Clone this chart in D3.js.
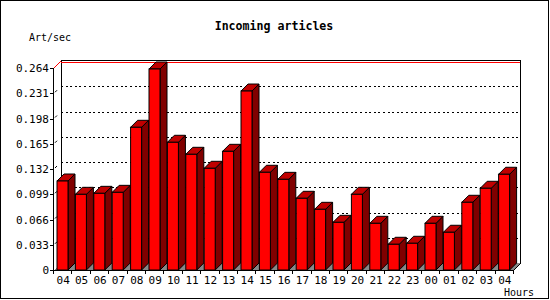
<!DOCTYPE html>
<html>
<head>
<meta charset="utf-8">
<script src="https://cdn.jsdelivr.net/npm/d3@7"></script>
<style>
  body { margin: 0; background: #fff; }
  text { font-family: "DejaVu Sans Mono", monospace; fill: #000; }
</style>
</head>
<body>
<svg width="550" height="300"></svg>
<script>
var hours = ["04", "05", "06", "07", "08", "09", "10", "11", "12", "13", "14", "15", "16",
             "17", "18", "19", "20", "21", "22", "23", "00", "01", "02", "03", "04"];
var rates = [0.1163, 0.0989, 0.1002, 0.1015, 0.1865, 0.2627, 0.1669, 0.1512, 0.1329, 0.1551,
             0.2339, 0.1277, 0.1185, 0.0937, 0.0793, 0.0623, 0.0989, 0.0610, 0.0336, 0.0349,
             0.0610, 0.0493, 0.0885, 0.1068, 0.1251];
var yTicks = [0, 0.033, 0.066, 0.099, 0.132, 0.165, 0.198, 0.231, 0.264];
var yTickLabels = ["0", "0.033", "0.066", "0.099", "0.132", "0.165", "0.198", "0.231", "0.264"];

var svg = d3.select("svg");

// 3d offset of back wall
var dx = 7, dy = 7;
var pLeft = 54, pRight = 514, pBottom = 270, pTop = 68;

var x = d3.scaleBand()
    .domain(d3.range(hours.length))
    .range([pLeft, pRight]);

var y = d3.scaleLinear()
    .domain([0, 0.264])
    .range([pBottom, pTop]);

// outer frame
svg.append("rect")
    .attr("x", 0.5).attr("y", 0.5)
    .attr("width", 548).attr("height", 298)
    .attr("fill", "#fff")
    .attr("stroke", "#000");

var g = svg.append("g").attr("shape-rendering", "crispEdges");

// grid on back wall
g.selectAll(".grid")
    .data(yTicks.slice(1, -1))
    .enter()
    .append("line")
    .attr("x1", pLeft + dx).attr("x2", pRight + dx)
    .attr("y1", function (d) { return Math.round(y(d) - dy) + 0.5; })
    .attr("y2", function (d) { return Math.round(y(d) - dy) + 0.5; })
    .attr("stroke", "#000")
    .attr("stroke-dasharray", "2,2.6");

// back wall frame
g.append("line")
    .attr("x1", pLeft + dx + 0.5).attr("x2", pLeft + dx + 0.5)
    .attr("y1", pTop - dy).attr("y2", pBottom - dy)
    .attr("stroke", "#000");
g.append("line")
    .attr("x1", pRight + dx - 0.5).attr("x2", pRight + dx - 0.5)
    .attr("y1", pTop - dy).attr("y2", pBottom - dy)
    .attr("stroke", "#000");
g.append("line")
    .attr("x1", pLeft + dx).attr("x2", pRight + dx)
    .attr("y1", pTop - dy - 0.5).attr("y2", pTop - dy - 0.5)
    .attr("stroke", "#000");
g.append("line")
    .attr("x1", pLeft + dx).attr("x2", pRight + dx - 1)
    .attr("y1", pTop - dy + 1.5).attr("y2", pTop - dy + 1.5)
    .attr("stroke", "#f00");

// floor
g.append("path")
    .attr("d", "M" + pLeft + "," + pBottom + "L" + (pLeft + dx) + "," + (pBottom - dy) +
        "L" + (pRight + dx) + "," + (pBottom - dy) + "L" + pRight + "," + pBottom + "Z")
    .attr("fill", "#888")
    .attr("stroke", "none");

// bars
var bw = 11, off = 3;
var bars = svg.append("g")
    .selectAll("g")
    .data(rates)
    .enter()
    .append("g");

bars.append("path")
    .attr("d", function (d, i) {
        var x0 = x(i) + off + bw, y0 = y(d);
        return "M" + x0 + "," + y0 + "L" + (x0 + dx) + "," + (y0 - dy) +
            "L" + (x0 + dx) + "," + (pBottom - dy) + "L" + x0 + "," + pBottom + "Z";
    })
    .attr("fill", "#800000")
    .attr("stroke", "#000");

bars.append("path")
    .attr("d", function (d, i) {
        var x0 = x(i) + off, y0 = y(d);
        return "M" + x0 + "," + y0 + "L" + (x0 + dx) + "," + (y0 - dy) +
            "L" + (x0 + bw + dx) + "," + (y0 - dy) + "L" + (x0 + bw) + "," + y0 + "Z";
    })
    .attr("fill", "#c00000")
    .attr("stroke", "#000");

bars.append("rect")
    .attr("x", function (d, i) { return x(i) + off; })
    .attr("y", function (d) { return y(d); })
    .attr("width", bw)
    .attr("height", function (d) { return pBottom - y(d); })
    .attr("fill", "#f00")
    .attr("stroke", "#000");

// front axes
var a = svg.append("g").attr("shape-rendering", "crispEdges");
a.append("line")
    .attr("x1", pLeft - 0.5).attr("x2", pLeft - 0.5)
    .attr("y1", pTop).attr("y2", pBottom + 1)
    .attr("stroke", "#000");
a.append("line")
    .attr("x1", pLeft - 1).attr("x2", pRight)
    .attr("y1", pBottom + 0.5).attr("y2", pBottom + 0.5)
    .attr("stroke", "#000");
svg.append("line")
    .attr("x1", pRight).attr("y1", pBottom)
    .attr("x2", pRight + dx).attr("y2", pBottom - dy)
    .attr("stroke", "#000");
svg.append("line")
    .attr("x1", pLeft).attr("y1", pTop)
    .attr("x2", pLeft + dx).attr("y2", pTop - dy)
    .attr("stroke", "#f00");

// y ticks and labels
a.selectAll(".yt")
    .data(yTicks)
    .enter()
    .append("line")
    .attr("x1", pLeft - 4).attr("x2", pLeft)
    .attr("y1", function (d) { return Math.round(y(d)) + 0.5; })
    .attr("y2", function (d) { return Math.round(y(d)) + 0.5; })
    .attr("stroke", "#000");

svg.selectAll(".yd")
    .data(yTicks.slice(1, -1))
    .enter()
    .append("line")
    .attr("x1", pLeft + 1).attr("x2", pLeft + 3)
    .attr("y1", function (d) { return y(d) - 1; })
    .attr("y2", function (d) { return y(d) - 3; })
    .attr("stroke", "#000");

svg.selectAll(".yl")
    .data(yTicks)
    .enter()
    .append("text")
    .attr("x", 49)
    .attr("y", function (d) { return y(d) + 4; })
    .attr("text-anchor", "end")
    .attr("font-size", "11px")
    .text(function (d, i) { return yTickLabels[i]; });

// x ticks and labels
a.selectAll(".xt")
    .data(d3.range(hours.length + 1))
    .enter()
    .append("line")
    .attr("x1", function (i) { return Math.round(pLeft + i * x.step()) - 0.5; })
    .attr("x2", function (i) { return Math.round(pLeft + i * x.step()) - 0.5; })
    .attr("y1", pBottom).attr("y2", pBottom + 4)
    .attr("stroke", "#000");

svg.selectAll(".xl")
    .data(hours)
    .enter()
    .append("text")
    .attr("x", function (d, i) { return x(i) + x.bandwidth() / 2; })
    .attr("y", 284)
    .attr("text-anchor", "middle")
    .attr("font-size", "11px")
    .text(function (d) { return d; });

svg.append("text")
    .attr("x", 274).attr("y", 30)
    .attr("text-anchor", "middle")
    .attr("font-size", "11.6px")
    .attr("font-weight", "bold")
    .text("Incoming articles");

svg.append("text")
    .attr("x", 29).attr("y", 41)
    .attr("font-size", "10px")
    .text("Art/sec");

svg.append("text")
    .attr("x", 504).attr("y", 296)
    .attr("font-size", "10px")
    .text("Hours");
</script>
</body>
</html>
